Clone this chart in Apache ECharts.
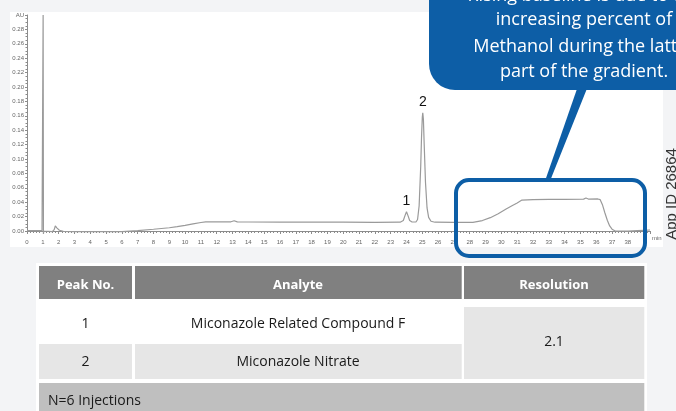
<!DOCTYPE html>
<html>
<head>
<meta charset="utf-8">
<script src="https://cdn.jsdelivr.net/npm/echarts@6/dist/echarts.min.js"></script>
<style>
html, body { margin: 0; padding: 0; background: #f3f4f6; }
#chart { width: 676px; height: 411px; }
</style>
</head>
<body>
<div id="chart"></div>
<script>
// retention time (min)
const timeMin = [
  0, 0.95, 1.0, 1.02, 1.04, 1.06, 1.1, 1.6, 1.72, 1.79, 1.9, 2.05, 2.3,
  3, 4, 5, 6, 7, 8, 9, 9.5, 10, 10.5, 11, 11.3, 12, 12.9, 13.1, 13.3,
  14, 16, 18, 20, 22, 23.6, 23.8, 23.9, 24.0, 24.1, 24.2, 24.35,
  24.6, 24.7, 24.8, 24.9, 24.95, 25.0, 25.03, 25.07, 25.12, 25.2, 25.3, 25.4, 25.55, 25.8,
  27, 28.2, 28.8, 29.3, 29.8, 30.3, 30.7, 31.0, 31.3, 32, 33, 34, 35.2, 35.35, 35.5, 36.1,
  36.25, 36.4, 36.55, 36.7, 36.85, 37.0, 37.2, 38, 38.6, 39.4
];
// absorbance (AU)
const absAU = [
  0.0005, 0.0005, 0.0, 0.30, -0.004, 0.0, -0.0008, -0.0008, 0.002, 0.007, 0.004, 0.001, -0.0005,
  -0.001, -0.001, -0.001, -0.001, 0.0005, 0.0024, 0.0045, 0.006, 0.0078, 0.0098, 0.0118, 0.0127, 0.0128, 0.0128, 0.0143, 0.0127,
  0.0125, 0.0124, 0.0123, 0.0122, 0.0121, 0.0122, 0.0145, 0.021, 0.0268, 0.021, 0.0145, 0.0125,
  0.0125, 0.016, 0.035, 0.09, 0.13, 0.158, 0.164, 0.155, 0.12, 0.068, 0.032, 0.019, 0.0135, 0.0122,
  0.012, 0.012, 0.0145, 0.0185, 0.024, 0.0305, 0.0355, 0.039, 0.043, 0.0435, 0.0438, 0.044, 0.0443, 0.0458, 0.0444, 0.0445,
  0.0435, 0.036, 0.025, 0.015, 0.007, 0.0025, 0.0, -0.0002, 0.0005, 0.0014
];
// peak labels
const peakNames = ['1', '2'];
const peakTimes = [24.0, 25.03];
const peakHeights = [0.0268, 0.164];

// table
const tableHeaders = ['Peak No.', 'Analyte', 'Resolution'];
const peakNos = ['1', '2'];
const analytes = ['Miconazole Related Compound F', 'Miconazole Nitrate'];
const resolution = '2.1';
const tableNote = 'N=6 Injections';

const calloutLines = [
  'Rising baseline is due to the',
  'increasing percent of',
  'Methanol during the latter',
  'part of the gradient.'
];
const appId = 'App ID 26864';

const chartData = timeMin.map((t, i) => [t, absAU[i]]);

const font = '"Open Sans", "Noto Sans", sans-serif';
const blue = '#0d5ea6';
const axisGray = '#8c8c8c';
const labelGray = '#666';

let myChart = echarts.init(document.getElementById('chart'));

// table graphics
const colX = [39, 135, 464];
const colW = [93, 326.7, 180.3];
const colC = [85.5, 298, 554];
const tbl = [];
tbl.push({ type: 'rect', z: -50, shape: { x: 36, y: 263, width: 611, height: 150 }, style: { fill: '#ffffff' } });
tableHeaders.forEach((h, i) => {
  tbl.push({ type: 'rect', shape: { x: colX[i], y: 266, width: colW[i], height: 33 }, style: { fill: '#808080' } });
  tbl.push({ type: 'text', x: colC[i], y: 285, style: { text: h, fill: '#ffffff', font: 'bold 13px ' + font, textAlign: 'center', textVerticalAlign: 'middle' } });
});
// row 2 background
tbl.push({ type: 'rect', shape: { x: colX[0], y: 344, width: colW[0], height: 35 }, style: { fill: '#e6e6e6' } });
tbl.push({ type: 'rect', shape: { x: colX[1], y: 344, width: colW[1], height: 35 }, style: { fill: '#e6e6e6' } });
// merged resolution cell
tbl.push({ type: 'rect', shape: { x: colX[2], y: 307, width: colW[2], height: 72 }, style: { fill: '#e6e6e6' } });
const rowY = [324, 362];
const bodyFont = '14px ' + font;
peakNos.forEach((p, i) => {
  tbl.push({ type: 'text', x: colC[0], y: rowY[i], style: { text: p, fill: '#1a1a1a', font: bodyFont, textAlign: 'center', textVerticalAlign: 'middle' } });
  tbl.push({ type: 'text', x: colC[1], y: rowY[i], style: { text: analytes[i], fill: '#1a1a1a', font: bodyFont, textAlign: 'center', textVerticalAlign: 'middle' } });
});
tbl.push({ type: 'text', x: colC[2], y: 342, style: { text: resolution, fill: '#1a1a1a', font: bodyFont, textAlign: 'center', textVerticalAlign: 'middle' } });
tbl.push({ type: 'rect', shape: { x: 39, y: 383, width: 605.3, height: 30 }, style: { fill: '#bfbfbf' } });
tbl.push({ type: 'text', x: 48, y: 401, style: { text: tableNote, fill: '#1a1a1a', font: bodyFont, textAlign: 'left', textVerticalAlign: 'middle' } });

// callout
const callout = [];
callout.push({ type: 'rect', z: 100, shape: { x: 456, y: 180, width: 189, height: 76, r: 13 }, style: { fill: 'none', stroke: blue, lineWidth: 4 } });
callout.push({ type: 'polygon', z: 100, shape: { points: [[578, 86], [588, 86], [550, 181], [545, 181]] }, style: { fill: blue } });
callout.push({ type: 'rect', z: 100, shape: { x: 429, y: -40, width: 300, height: 130, r: [0, 0, 0, 26] }, style: { fill: blue } });
const calloutY = [-4, 20, 46.5, 72];
calloutLines.forEach((l, i) => {
  callout.push({ type: 'text', z: 101, x: 584, y: calloutY[i], style: { text: l, fill: '#ffffff', font: '18px ' + font, textAlign: 'center', textVerticalAlign: 'middle' } });
});
callout.push({ type: 'text', z: 101, x: 672, y: 194, rotation: Math.PI / 2, style: { text: appId, fill: '#333333', font: '15px "Liberation Sans", Arial, sans-serif', textAlign: 'center', textVerticalAlign: 'middle' } });

let option = {
  backgroundColor: '#f3f4f6',
  animation: false,
  grid: { left: 27, right: 26, top: 15, bottom: 180 },
  xAxis: {
    type: 'value',
    min: 0,
    max: 39.4,
    interval: 1,
    offset: 5,
    name: 'min',
    nameLocation: 'end',
    nameGap: 2,
    nameTextStyle: { fontSize: 6, color: labelGray, verticalAlign: 'top', padding: [4, 0, 0, 0], fontFamily: 'Liberation Sans' },
    axisLine: { show: true, lineStyle: { color: axisGray, width: 1 } },
    axisTick: { show: true, length: 3, lineStyle: { color: axisGray } },
    minorTick: { show: true, splitNumber: 5, length: 2, lineStyle: { color: axisGray } },
    splitLine: { show: false },
    axisLabel: {
      fontSize: 6, color: labelGray, margin: 3, fontFamily: 'Liberation Sans',
      formatter: v => (v > 38 ? '' : String(v))
    }
  },
  yAxis: {
    type: 'value',
    min: 0,
    max: 0.30,
    interval: 0.02,
    axisLine: { show: true, lineStyle: { color: axisGray, width: 1 } },
    axisTick: { show: true, length: 2, lineStyle: { color: axisGray } },
    minorTick: { show: true, splitNumber: 4, length: 1.5, lineStyle: { color: axisGray } },
    splitLine: { show: false },
    axisLabel: {
      fontSize: 6, color: labelGray, margin: 3, fontFamily: 'Liberation Sans',
      formatter: v => (v > 0.29 ? 'AU' : v.toFixed(2))
    }
  },
  series: [{
    type: 'line',
    data: chartData,
    clip: false,
    symbol: 'none',
    lineStyle: { color: '#9a9a9a', width: 1.2 },
    markPoint: {
      symbol: 'circle',
      symbolSize: 0,
      label: { show: true, position: 'top', distance: 4, color: '#111', fontSize: 14, fontFamily: 'Liberation Sans', formatter: p => p.name },
      data: peakNames.map((n, i) => ({ name: n, coord: [peakTimes[i], peakHeights[i]] }))
    }
  }],
  graphic: {
    elements: [
      { type: 'rect', z: -100, shape: { x: 10, y: 12, width: 653, height: 235 }, style: { fill: '#ffffff' } }
    ].concat(tbl, callout)
  }
};
myChart.setOption(option, true);
window.addEventListener('resize', () => {
  myChart.resize();
});
</script>
</body>
</html>
